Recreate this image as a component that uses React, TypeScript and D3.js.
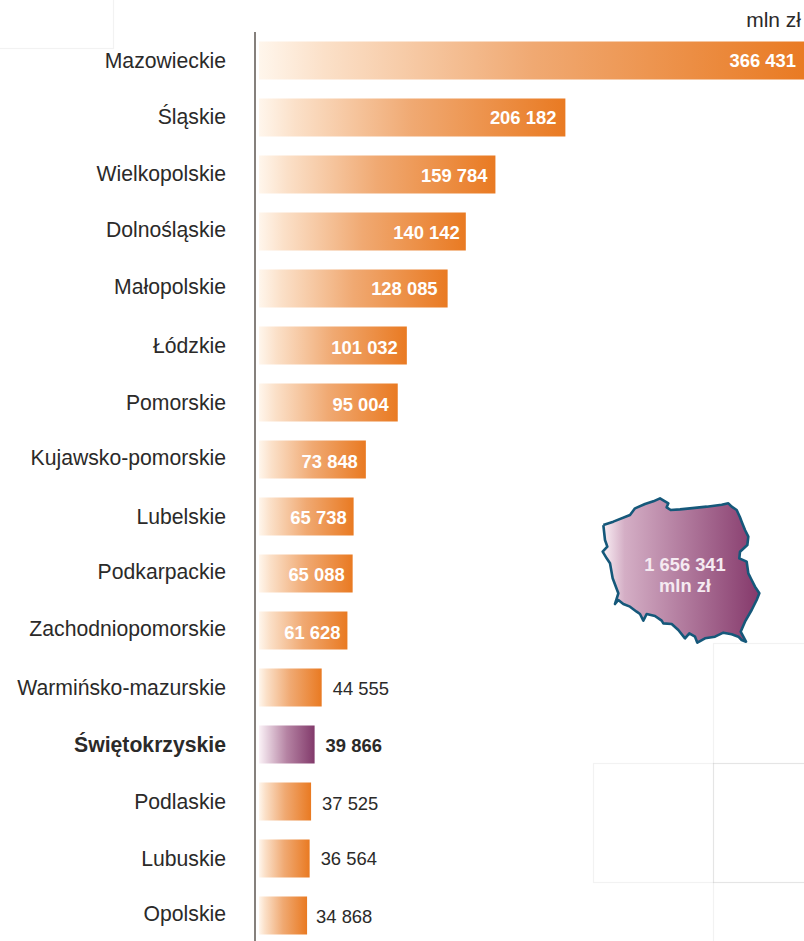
import React from "react";
import * as d3 from "d3";

const regions = ["Mazowieckie","Śląskie","Wielkopolskie","Dolnośląskie","Małopolskie","Łódzkie","Pomorskie","Kujawsko-pomorskie","Lubelskie","Podkarpackie","Zachodniopomorskie","Warmińsko-mazurskie","Świętokrzyskie","Podlaskie","Lubuskie","Opolskie"];
const values = [366431,206182,159784,140142,128085,101032,95004,73848,65738,65088,61628,44555,39866,37525,36564,34868];
const valueLabels = ["366 431","206 182","159 784","140 142","128 085","101 032","95 004","73 848","65 738","65 088","61 628","44 555","39 866","37 525","36 564","34 868"];
const highlighted = "Świętokrzyskie";
const insideCount = 11;
const labelNudge = [0,-1,-1,-2,-2,0,0,-2,0,-2,-2,0,0,0,0,-2];
const valueNudge = [0,0,1,1,0,2,2,2,1,1,2,1,1,2,0,1];
const valueShift = [-3,-1,0,2,-2,-1,-1,0,1,0,1,0,0,0,0,-2];
const total = "1 656 341";
const unit = "mln zł";
const outline: [number, number][] = [[40,135],[70,125],[120,105],[135,85],[165,72],[190,64],[210,55],[235,70],[230,82],[242,90],[270,88],[300,85],[350,80],[395,74],[415,70],[425,80],[440,90],[450,112],[455,125],[465,150],[475,170],[472,195],[450,215],[448,235],[470,245],[475,280],[485,300],[495,320],[508,340],[500,360],[485,390],[465,425],[452,455],[468,485],[455,480],[445,470],[425,463],[400,458],[375,470],[345,475],[322,488],[315,470],[298,460],[285,475],[265,450],[245,432],[220,430],[215,422],[195,408],[170,402],[160,422],[150,402],[140,395],[120,380],[100,372],[85,360],[75,372],[85,340],[68,295],[60,250],[50,235],[38,215],[52,200],[45,180],[40,135]];

const FONT = "'Liberation Sans', Arial, sans-serif";
const x = d3.scaleLinear().domain([0, 366431]).range([254.5, 807]);
const y = d3.scaleBand<string>().domain(regions).range([32, 944]).paddingInner(19 / 57).paddingOuter(19 / 114);
const mapLine = d3.line().x(d => 590 + d[0] / 3).y(d => 480 + d[1] / 3);

const faint: [number, number, number, number][] = [[-5,-5,118,53],[713,643,110,120],[593,763,120,119],[713,763,110,119],[713,882,110,70]];

export default function App() {
  return (
    <svg width={804} height={941} style={{ position: "absolute", left: 0, top: 0, background: "#fff" }} fontFamily={FONT}>
      <defs>
        <linearGradient id="orange" x1="0" x2="1" y1="0" y2="0">
          <stop offset="0" stopColor="#fff6ec" />
          <stop offset="0.12" stopColor="#fbe0c8" />
          <stop offset="0.5" stopColor="#f0a972" />
          <stop offset="1" stopColor="#e97a22" />
        </linearGradient>
        <linearGradient id="purple" x1="0" x2="1" y1="0" y2="0">
          <stop offset="0" stopColor="#fbf2f7" />
          <stop offset="0.5" stopColor="#b583a3" />
          <stop offset="1" stopColor="#823a6b" />
        </linearGradient>
        <linearGradient id="map" x1="0" x2="1" y1="0" y2="0">
          <stop offset="0" stopColor="#faf0f5" />
          <stop offset="0.14" stopColor="#d4aec5" />
          <stop offset="1" stopColor="#85396b" />
        </linearGradient>
      </defs>
      {faint.map((r, i) => (
        <rect key={i} x={r[0] + 0.5} y={r[1] + 0.5} width={r[2]} height={r[3]} fill="none" stroke="#000" strokeOpacity={0.05} strokeWidth={1.2} />
      ))}
      {regions.map((r, i) => {
        const top = y(r)!;
        const h = y.bandwidth();
        const hl = r === highlighted;
        const inside = i < insideCount;
        const x1 = x(values[i]);
        const cy = top + h / 2;
        return (
          <g key={r}>
            <rect x={259} y={top} width={x1 - 259} height={h} fill={hl ? "url(#purple)" : "url(#orange)"} />
            <text x={226} y={cy + 7 + labelNudge[i]} textAnchor="end" fontSize={21.2} fontWeight={hl ? 700 : 400} fill="#2b2a29">{r}</text>
            <text x={(inside ? x1 - 8 : x1 + 11) + valueShift[i]} y={cy + 6 + valueNudge[i]} textAnchor={inside ? "end" : "start"} fontSize={18.4} fontWeight={inside || hl ? 700 : 400} fill={inside ? "#fff" : "#2b2a29"}>{valueLabels[i]}</text>
          </g>
        );
      })}
      <line x1={255} x2={255} y1={32} y2={941} stroke="#85807c" strokeWidth={2} />
      <text x={801} y={27} textAnchor="end" fontSize={21} fill="#2b2a29">{unit}</text>
      <path d={mapLine(outline)!} fill="url(#map)" stroke="#15587a" strokeWidth={2.6} strokeLinejoin="round" />
      <text x={685} y={571} textAnchor="middle" fontSize={18.3} fontWeight={700} fill="#f5eaf1">{total}</text>
      <text x={685} y={592} textAnchor="middle" fontSize={18.3} fontWeight={700} fill="#f5eaf1">{unit}</text>
    </svg>
  );
}
